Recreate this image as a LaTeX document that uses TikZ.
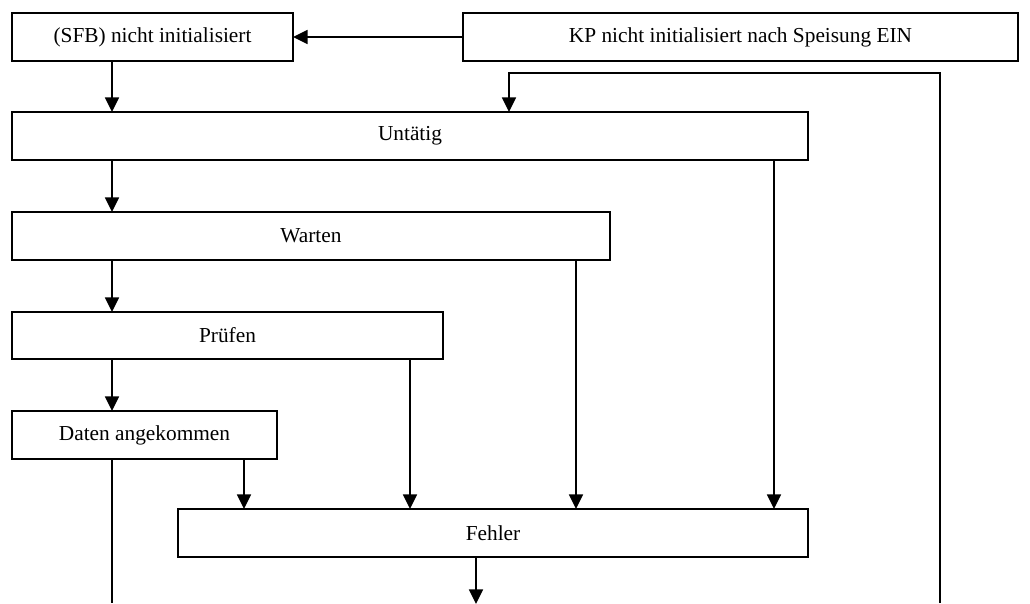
\documentclass[tikz,border=0pt]{standalone}
\usepackage{fontspec}
\setmainfont{Liberation Serif}
\usetikzlibrary{arrows.meta}
\begin{document}
\begin{tikzpicture}[x=0.75pt,y=-0.75pt,
  box/.style={draw,line width=1.4pt,inner sep=0pt,outer sep=0pt,font=\fontsize{16}{19}\selectfont},
  arr/.style={line width=1.3pt,-{Triangle[width=10.5pt,length=11pt]}},
  ln/.style={line width=1.3pt}]
\useasboundingbox (0,0) rectangle (1030,603);
\node[box,minimum width=281*0.75pt,minimum height=48*0.75pt] (sfb) at (152.5,37) {(SFB) nicht initialisiert};
\node[box,minimum width=555*0.75pt,minimum height=48*0.75pt] (kp) at (740.5,37) {KP nicht initialisiert nach Speisung EIN};
\node[box,minimum width=796*0.75pt,minimum height=48*0.75pt] (unt) at (410,136) {Untätig};
\node[box,minimum width=598*0.75pt,minimum height=48*0.75pt] (war) at (311,236) {Warten};
\node[box,minimum width=431*0.75pt,minimum height=47*0.75pt] (pru) at (227.5,335.5) {Prüfen};
\node[box,minimum width=265*0.75pt,minimum height=48*0.75pt] (dat) at (144.5,435) {Daten angekommen};
\node[box,minimum width=630*0.75pt,minimum height=48*0.75pt] (feh) at (493,533) {Fehler};
\coordinate (c112) at (112,0);
\coordinate (c244) at (244,0);
\coordinate (c410) at (410,0);
\coordinate (c576) at (576,0);
\coordinate (c774) at (774,0);
\coordinate (c476) at (476,0);
\coordinate (fbbot) at (940,603);
\coordinate (fbturn) at (509,73);
\coordinate (datend) at (112,603);
\coordinate (fehend) at (476,604);
\draw[arr] (kp.west) -- (sfb.east);
\draw[arr] (sfb.south -| c112) -- (unt.north -| c112);
\draw[arr] (fbbot) |- (fbturn) -- (unt.north -| fbturn);
\draw[arr] (unt.south -| c112) -- (war.north -| c112);
\draw[arr] (war.south -| c112) -- (pru.north -| c112);
\draw[arr] (pru.south -| c112) -- (dat.north -| c112);
\draw[ln] (dat.south -| c112) -- (datend);
\draw[arr] (unt.south -| c774) -- (feh.north -| c774);
\draw[arr] (war.south -| c576) -- (feh.north -| c576);
\draw[arr] (pru.south -| c410) -- (feh.north -| c410);
\draw[arr] (dat.south -| c244) -- (feh.north -| c244);
\draw[arr] (feh.south -| c476) -- (fehend);
\end{tikzpicture}
\end{document}
